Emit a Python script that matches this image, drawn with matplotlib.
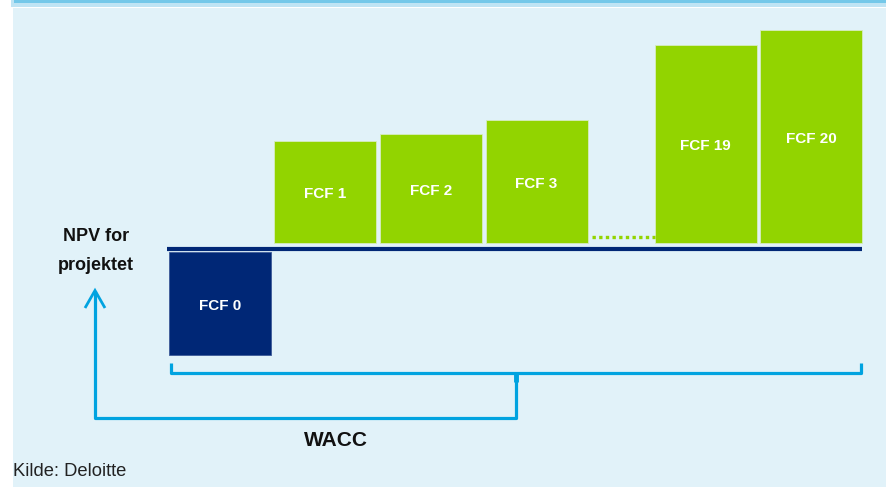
"""Waterfall-style NPV sketch: FCF 0..20 discounted back with WACC."""
import matplotlib
matplotlib.use("Agg")
import matplotlib.pyplot as plt
from matplotlib.patches import Rectangle

plt.rcParams["font.family"] = ["Liberation Sans", "DejaVu Sans"]

# data (arbitrary units, baseline = 0)
labels = ["FCF 0", "FCF 1", "FCF 2", "FCF 3", "FCF 19", "FCF 20"]
values = [-105, 108, 115, 129, 204, 219]
slots = [0, 1, 2, 3, 4.6, 5.6]  # gap between FCF 3 and FCF 19 for the "..."

GREEN = "#92d400"
NAVY = "#002776"
BLUE = "#00a3e0"
PANEL = "#e1f2f9"

W, H = 886, 487
fig = plt.figure(figsize=(W / 100, H / 100), dpi=100)
fig.patch.set_facecolor("white")

# background / annotation layer in pixel coordinates
bg = fig.add_axes([0, 0, 1, 1])
bg.set_xlim(0, W)
bg.set_ylim(H, 0)
bg.axis("off")
bg.add_patch(Rectangle((13, 8), W - 13, H - 8, color=PANEL, lw=0))
bg.add_patch(Rectangle((11, 0), W - 11, 6.5, color="#bfe4f4", lw=0))
bg.add_patch(Rectangle((14, 0), W - 14, 3, color="#74c8e9", lw=0))

# bracket under the bars
kw = dict(color=BLUE, lw=2.3, solid_capstyle="butt", solid_joinstyle="round")
bg.plot([171, 171, 861, 861], [363, 372.5, 372.5, 363], **kw)
bg.plot([516, 516], [372.5, 382], color=BLUE, lw=3.5, solid_capstyle="butt")
# discount path back to NPV
bg.plot([516, 516, 95, 95], [372.5, 417.5, 417.5, 291], **kw)
bg.plot([85, 95, 105], [308, 290.5, 308], color=BLUE, lw=2.0,
        solid_joinstyle="miter", solid_capstyle="butt")

bg.text(96, 236.5, "NPV for", ha="center", va="center", fontsize=13,
        fontweight="bold", color="#111111")
bg.text(96, 266, "projektet", ha="center", va="center", fontsize=13,
        fontweight="bold", color="#111111")
bg.text(336, 441, "WACC", ha="center", va="center", fontsize=15,
        fontweight="bold", color="#111111")
bg.text(13, 471, "Kilde: Deloitte", ha="left", va="center", fontsize=13.2,
        color="#222222")

# bar layer in data coordinates (1 unit ~ 1 px vertically)
pitch = 105.6
c0 = 219.8
ax = fig.add_axes([0, 0, 1, 1])
ax.patch.set_alpha(0)
ax.axis("off")
ax.set_xlim(-c0 / pitch, (W - c0) / pitch)
ax.set_ylim(-(H - 249.5), 249.5)

width = 102 / pitch
for lab, v, s in zip(labels, values, slots):
    bottom = 6.5 if v > 0 else -3
    color = GREEN if v > 0 else NAVY
    ax.bar(s, v - bottom, bottom=bottom, width=width, color=color,
           edgecolor="#d6ecc0" if v > 0 else "#3d5a99", linewidth=0.6)
    ax.text(s, (bottom + v) / 2 - 2, lab, ha="center", va="center",
            fontsize=11, fontweight="bold", color="white")

left = slots[0] - width / 2 - 0.02
right = slots[-1] + width / 2
ax.plot([left, right], [0, 0], color=NAVY, lw=3, solid_capstyle="butt")

# dotted ellipsis between FCF 3 and FCF 19
ax.plot([slots[3] + width / 2 + 0.04, slots[4] - width / 2], [12, 12],
        color=GREEN, lw=2.4, linestyle=(0, (1, 1)))

fig.savefig("out.png", dpi=100, facecolor=fig.get_facecolor())
